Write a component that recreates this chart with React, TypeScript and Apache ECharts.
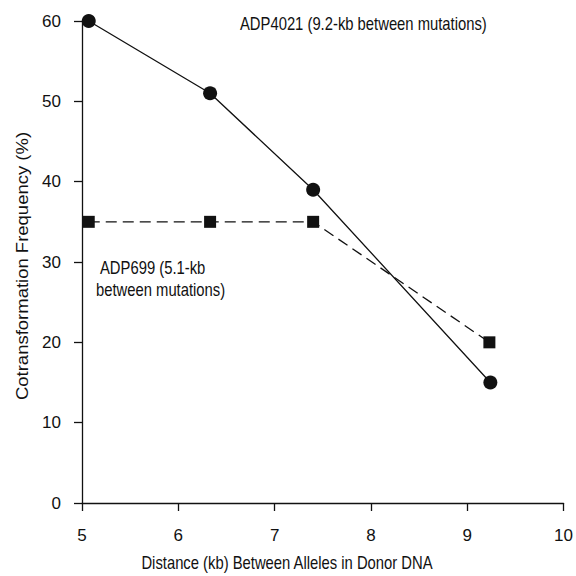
import React, { useEffect, useRef } from "react";
import * as echarts from "echarts";

const adp4021X = [5.07, 6.33, 7.4, 9.24];
const adp4021Y = [60, 51, 39, 15];
const adp699X = [5.07, 6.33, 7.4, 9.23];
const adp699Y = [35, 35, 35, 20];

const xName = "Distance (kb) Between Alleles in Donor DNA";
const yName = "Cotransformation Frequency (%)";
const label4021 = "ADP4021 (9.2-kb between mutations)";
const label699a = "ADP699 (5.1-kb";
const label699b = "between mutations)";

const FONT = "Liberation Sans, Arial, sans-serif";
const INK = "#111";
const SX = 0.8;

export default function App() {
  const ref = useRef<HTMLDivElement>(null);
  useEffect(() => {
    if (!ref.current) return;
    const chart = echarts.init(ref.current, undefined, { renderer: "svg" });
    const txt = (text: string, x: number, y: number, align: string) => ({
      type: "text",
      x,
      y,
      scaleX: SX,
      style: {
        text,
        fontFamily: FONT,
        fontSize: 18.5,
        fill: INK,
        align,
        verticalAlign: "middle",
      },
    });
    chart.setOption({
      animation: false,
      backgroundColor: "#ffffff",
      grid: { left: 82, right: 11, top: 21, bottom: 73 },
      xAxis: {
        type: "value",
        min: 5,
        max: 10,
        interval: 1,
        axisLine: { lineStyle: { color: INK, width: 1.3 } },
        axisTick: { length: 8, lineStyle: { color: INK, width: 1.3 } },
        axisLabel: { margin: 24, fontFamily: FONT, fontSize: 17, color: INK },
        splitLine: { show: false },
      },
      yAxis: {
        type: "value",
        min: 0,
        max: 60,
        interval: 10,
        axisLine: { show: true, lineStyle: { color: INK, width: 1.3 } },
        axisTick: { show: true, length: 8, lineStyle: { color: INK, width: 1.3 } },
        axisLabel: { margin: 21, fontFamily: FONT, fontSize: 17, color: INK },
        splitLine: { show: false },
      },
      series: [
        {
          type: "line",
          data: adp4021X.map((x, i) => [x, adp4021Y[i]]),
          symbol: "circle",
          symbolSize: 14,
          lineStyle: { color: INK, width: 1.3 },
          itemStyle: { color: INK },
        },
        {
          type: "line",
          data: adp699X.map((x, i) => [x, adp699Y[i]]),
          symbol: "rect",
          symbolSize: 12,
          lineStyle: { color: INK, width: 1.3, type: [11, 6] },
          itemStyle: { color: INK },
        },
      ],
      graphic: [
        txt(label4021, 240, 24, "left"),
        txt(label699a, 100, 268, "left"),
        txt(label699b, 96, 290, "left"),
        txt(xName, 287, 563, "center"),
        {
          type: "text",
          x: 23,
          y: 266,
          rotation: Math.PI / 2,
          scaleY: 0.85,
          style: {
            text: yName,
            fontFamily: FONT,
            fontSize: 18.5,
            fill: INK,
            align: "center",
            verticalAlign: "middle",
          },
        },
      ],
    });
    return () => chart.dispose();
  }, []);
  return <div ref={ref} style={{ width: 576, height: 576, position: "absolute", left: 0, top: 0 }} />;
}
